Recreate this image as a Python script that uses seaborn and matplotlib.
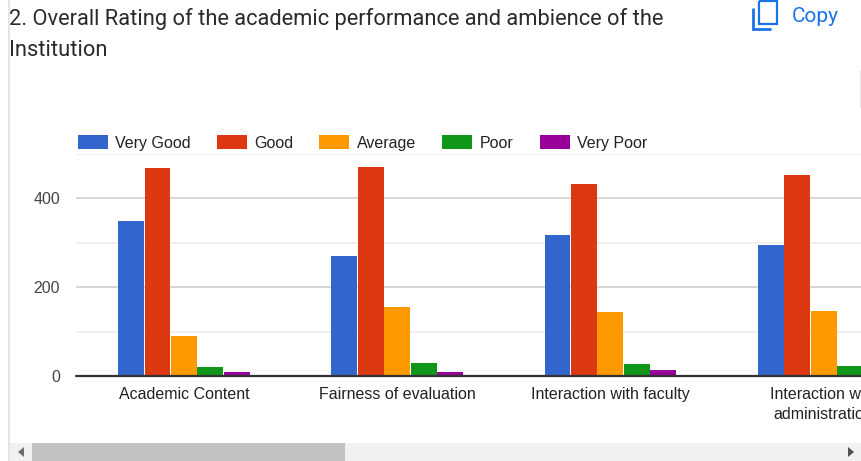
import matplotlib
matplotlib.use("Agg")
import matplotlib.pyplot as plt
import pandas as pd
import seaborn as sns
from matplotlib.lines import Line2D
from matplotlib.patches import Polygon, Rectangle
from matplotlib.ticker import MultipleLocator

W, H = 862, 461

categories = ["Academic Content", "Fairness of evaluation", "Interaction with faculty",
              "Interaction with\nadministration"]
ratings = ["Very Good", "Good", "Average", "Poor", "Very Poor"]
very_good = [349, 270, 317, 295]
good = [468, 470, 432, 452]
average = [90, 155, 144, 146]
poor = [20, 29, 27, 23]
very_poor = [9, 9, 13, 10]
colors = ["#3366cc", "#dc3912", "#ff9900", "#109618", "#990099"]

df = pd.DataFrame({"Very Good": very_good, "Good": good, "Average": average,
                   "Poor": poor, "Very Poor": very_poor}, index=categories)
df = df.rename_axis("item").reset_index().melt("item", var_name="rating", value_name="count")

sns.set_theme(style="white")
plt.rcParams["font.family"] = ["Liberation Sans", "DejaVu Sans"]


def px_x(x):
    return x / W


def px_y(y):
    return 1 - y / H


def add_box(fig, x0, y0, x1, y1, color):
    fig.add_artist(Rectangle((px_x(x0), px_y(y1)), (x1 - x0) / W, (y1 - y0) / H,
                             transform=fig.transFigure, color=color, lw=0))


def add_line(fig, xs, ys, color, lw):
    fig.add_artist(Line2D([px_x(x) for x in xs], [px_y(y) for y in ys],
                          transform=fig.transFigure, color=color, lw=lw,
                          solid_capstyle="butt", solid_joinstyle="miter"))


fig = plt.figure(figsize=(W / 100, H / 100), dpi=100)
ax = fig.add_axes([px_x(76), px_y(376), (W - 76) / W, (376 - 154) / H])

sns.barplot(data=df, x="item", y="count", hue="rating", hue_order=ratings, palette=colors,
            width=0.62, gap=0.02, saturation=1, linewidth=0, ax=ax)

ax.set_xlim(-0.506, 3.18)
ax.set_ylim(0, 500)
ax.yaxis.set_major_locator(MultipleLocator(200))
ax.yaxis.set_minor_locator(MultipleLocator(100))
ax.grid(True, which="major", axis="y", color="#cccccc", lw=1.1)
ax.grid(True, which="minor", axis="y", color="#ebebeb", lw=1.1)
ax.grid(False, axis="x")
ax.set_axisbelow(True)
ax.set_xlabel("")
ax.set_ylabel("")
sns.despine(ax=ax, left=True, bottom=True, top=True, right=True)
ax.axhline(0, color="#333333", lw=1.6, clip_on=False, zorder=5)
ax.tick_params(axis="y", which="both", length=0, pad=11.5, labelsize=11.5, labelcolor="#444444")
ax.tick_params(axis="x", length=0, pad=7.7, labelsize=11.5, labelcolor="#222222")
for lab in ax.get_xticklabels():
    lab.set_linespacing(1.47)

handles, labels = ax.get_legend_handles_labels()
ax.get_legend().remove()
fig.legend(handles, labels, loc="center left", bbox_to_anchor=(px_x(77.5), px_y(143)), ncol=5,
           frameon=False, fontsize=11.5, handlelength=1.88, handleheight=1.0,
           handletextpad=0.45, columnspacing=1.65, borderpad=0, borderaxespad=0,
           labelcolor="#222222")

# page chrome around the chart
add_line(fig, [9.5, 9.5], [0, H], "#e4e4e4", 1.5)
add_line(fig, [861.5, 861.5], [70, 108], "#e4e4e4", 1.2)
add_box(fig, 10, 443, W, H, "#f1f1f1")
add_box(fig, 32, 443, 345, H, "#c1c1c1")
fig.add_artist(Polygon([(px_x(24), px_y(447)), (px_x(24), px_y(457)), (px_x(18), px_y(452))],
                       transform=fig.transFigure, color="#6e6e6e", lw=0))
fig.add_artist(Polygon([(px_x(848), px_y(447)), (px_x(848), px_y(457)), (px_x(854), px_y(452))],
                       transform=fig.transFigure, color="#505050", lw=0))

fig.text(px_x(9), px_y(18.5), "2. Overall Rating of the academic performance and ambience of the",
         family="Roboto", fontsize=15.75, color="#2b2b2b", va="center", ha="left")
fig.text(px_x(9), px_y(50.5), "Institution", family="Roboto", fontsize=15.75, color="#2b2b2b",
         va="center", ha="left")

# copy button
blue = "#1a73e8"
add_line(fig, [753, 753, 771], [8, 29, 29], blue, 2)
add_line(fig, [759, 759, 777, 777, 759], [1, 24, 24, 1, 1], blue, 1.6)
fig.text(px_x(792), px_y(17), "Copy", family="Roboto", fontsize=15, color=blue,
         va="center", ha="left")

fig.savefig("out.png", dpi=100)
